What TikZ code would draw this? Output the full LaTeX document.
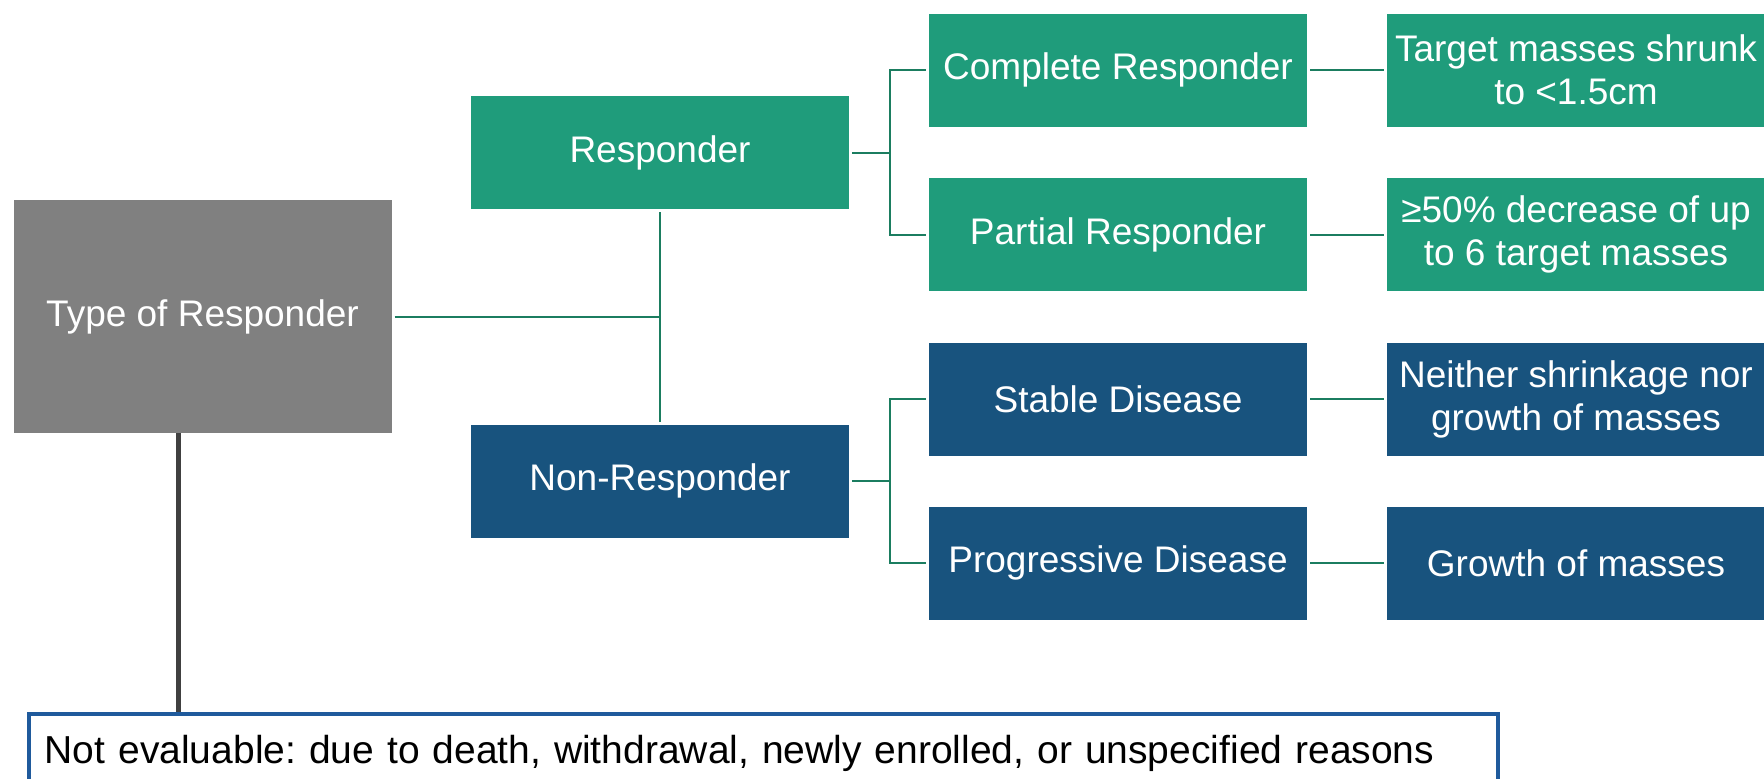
\documentclass[tikz,border=0pt]{standalone}
\usepackage{fontspec}
\setmainfont{Liberation Sans}
\usepackage{tikz}
\usetikzlibrary{positioning}
\definecolor{respgreen}{RGB}{31,156,123}
\definecolor{nonblue}{RGB}{24,83,126}
\definecolor{typegray}{RGB}{128,128,128}
\definecolor{linkgreen}{RGB}{27,125,96}
\definecolor{evalblue}{RGB}{31,90,156}
\definecolor{stemgray}{RGB}{64,64,64}
\frenchspacing

\begin{document}
\begin{tikzpicture}[
    box/.style={minimum width=189pt, minimum height=56.5pt, inner sep=0pt, outer sep=1.5pt,
        text=white, align=center, font=\fontsize{18.5pt}{21.5pt}\selectfont},
    greenbox/.style={box, fill=respgreen},
    bluebox/.style={box, fill=nonblue},
    link/.style={draw=linkgreen, line width=1pt}]
    \useasboundingbox (0,0) rectangle (882pt,-389pt);
    \clip (0,0) rectangle (882pt,-389pt);

    % main boxes
    \node[box, fill=typegray, minimum height=116.5pt] (type) at (101.25pt,-158.25pt) {Type of Responder};
    \node[greenbox] (resp) at (330pt,-76.25pt) {Responder};
    \node[bluebox] (nonresp) at (330pt,-240.5pt) {Non-Responder};

    \node[greenbox] (complete) at (559pt,-35pt) {Complete Responder};
    \node[greenbox] (partial) at (559pt,-117.25pt) {Partial Responder};
    \node[bluebox] (stable) at (559pt,-199.5pt) {Stable Disease};
    \node[bluebox] (progressive) at (559pt,-281.5pt) {Progressive Disease};

    \node[greenbox, right=37pt of complete] (completedesc) {Target masses shrunk\\to <1.5cm};
    \node[greenbox, right=37pt of partial] (partialdesc) {≥50\% decrease of up\\to 6 target masses};
    \node[bluebox, right=37pt of stable] (stabledesc) {Neither shrinkage nor\\growth of masses};
    \node[bluebox, right=37pt of progressive] (progressivedesc) {Growth of masses};

    \node[draw=evalblue, line width=1.75pt, fill=white, anchor=north west, inner xsep=8pt, inner ysep=11pt,
        text height=14pt, text depth=30pt, text width=718.5pt, align=left,
        font=\fontsize{19.5pt}{22pt}\selectfont] (notev) at (13.5pt,-356pt)
        {Not evaluable: due to death, withdrawal, newly enrolled, or unspecified reasons};

    % connectors
    \draw[link] (resp.south) -- (nonresp.north);
    \draw[link] (type.east) -- (type.east -| resp.south);

    \draw[link] (resp.east) -- ++(18.75pt,0) |- (complete.west);
    \draw[link] (resp.east) ++(18.75pt,0) |- (partial.west);
    \draw[link] (nonresp.east) -- ++(18.75pt,0) |- (stable.west);
    \draw[link] (nonresp.east) ++(18.75pt,0) |- (progressive.west);

    \draw[link] (complete) -- (completedesc);
    \draw[link] (partial) -- (partialdesc);
    \draw[link] (stable) -- (stabledesc);
    \draw[link] (progressive) -- (progressivedesc);

    \draw[draw=stemgray, line width=2.25pt, shorten <=-1.5pt]
        ([xshift=-12pt]type.south) -- ([xshift=-12pt]type.south |- notev.north);
\end{tikzpicture}
\end{document}
